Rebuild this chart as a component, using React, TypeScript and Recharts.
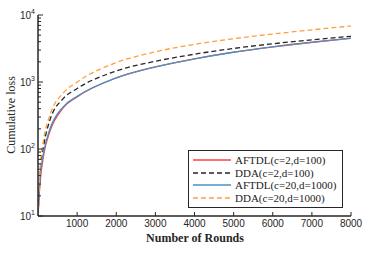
import React from 'react';
import { LineChart, Line, XAxis, YAxis } from 'recharts';

const rounds = [0, 50, 150, 300, 650, 1000, 2000, 3000, 4000, 5000, 6000, 7000, 8000];
const aftdlSmall = [10, 30, 85, 180, 415, 600, 1150, 1680, 2220, 2790, 3350, 3920, 4500];
const ddaSmall = [10, 40, 115, 265, 570, 800, 1460, 2040, 2600, 3170, 3720, 4260, 4810];
const aftdlLarge = [10, 34, 92, 195, 430, 610, 1150, 1680, 2210, 2780, 3340, 3910, 4490];
const ddaLarge = [10, 48, 145, 315, 690, 1000, 1950, 2820, 3650, 4430, 5200, 6000, 6860];

const xTicks = [1000, 2000, 3000, 4000, 5000, 6000, 7000, 8000];
const yMajor = [10, 100, 1000, 10000];
const yMinor = [20, 30, 40, 50, 60, 70, 80, 90, 200, 300, 400, 500, 600, 700, 800, 900, 2000, 3000, 4000, 5000, 6000, 7000, 8000, 9000];

const series = [
  { key: 'a2', name: 'AFTDL(c=2,d=100)', color: '#ff4040', dash: undefined },
  { key: 'd2', name: 'DDA(c=2,d=100)', color: '#262626', dash: '5 3' },
  { key: 'a20', name: 'AFTDL(c=20,d=1000)', color: '#4a92c2', dash: undefined },
  { key: 'd20', name: 'DDA(c=20,d=1000)', color: '#ff9f3f', dash: '5 3' },
];

const data = rounds.map((t, i) => ({
  t,
  a2: aftdlSmall[i],
  d2: ddaSmall[i],
  a20: aftdlLarge[i],
  d20: ddaLarge[i],
}));

const AXIS = '#262626';
const SANS = '"Liberation Sans", Arial, sans-serif';
const SERIF = '"Liberation Serif", "DejaVu Serif", serif';

const LeftTick = (props: any) => {
  const { x, y, payload } = props;
  const v = payload.value;
  const major = yMajor.includes(v);
  return (
    <g>
      <line x1={x} y1={y} x2={x + (major ? 5 : 3)} y2={y} stroke={AXIS} strokeWidth={1} />
      {major && (
        <text x={x - 3} y={y + 4} textAnchor="end" fontFamily={SANS} fontSize={10} fill={AXIS}>
          10
          <tspan dy={-5} fontSize={7}>{Math.round(Math.log10(v))}</tspan>
        </text>
      )}
    </g>
  );
};

const RightTick = (props: any) => {
  const { x, y, payload } = props;
  const major = yMajor.includes(payload.value);
  return <line x1={x} y1={y} x2={x - (major ? 5 : 3)} y2={y} stroke={AXIS} strokeWidth={1} />;
};

const BottomTick = (props: any) => {
  const { x, y, payload } = props;
  return (
    <g>
      <line x1={x} y1={y} x2={x} y2={y - 4} stroke={AXIS} strokeWidth={1} />
      <text x={x} y={y + 11} textAnchor="middle" fontFamily={SANS} fontSize={10} fill={AXIS}>
        {payload.value}
      </text>
    </g>
  );
};

const TopTick = (props: any) => {
  const { x, y } = props;
  return <line x1={x} y1={y} x2={x} y2={y + 4} stroke={AXIS} strokeWidth={1} />;
};

const LegendBox = () => (
  <div
    style={{
      position: 'absolute',
      left: 188,
      top: 150,
      width: 155,
      boxSizing: 'border-box',
      border: `1.5px solid ${AXIS}`,
      background: '#fff',
      padding: '3px 2px 3px 2px',
      fontFamily: SERIF,
      fontSize: 11,
      color: '#222',
      lineHeight: '12.6px',
    }}
  >
    {series.map((s) => (
      <div key={s.key} style={{ display: 'flex', alignItems: 'center', whiteSpace: 'nowrap' }}>
        <svg width={42} height={10} style={{ marginRight: 2 }}>
          <line x1={2} y1={5} x2={40} y2={5} stroke={s.color} strokeWidth={1.4} strokeDasharray={s.dash} />
        </svg>
        <span>{s.name}</span>
      </div>
    ))}
  </div>
);

export default function App() {
  return (
    <div style={{ position: 'absolute', left: 0, top: 0, width: 381, height: 255, background: '#fff' }}>
      <LineChart width={381} height={255} data={data} margin={{ top: 15, right: 30, bottom: 9, left: 8 }}>
        <XAxis
          dataKey="t"
          type="number"
          domain={[0, 8000]}
          ticks={xTicks}
          tickSize={0}
          tickMargin={0}
          tick={<BottomTick />}
          axisLine={{ stroke: AXIS, strokeWidth: 1.5 }}
          tickLine={false}
          height={30}
          allowDataOverflow
        />
        <XAxis
          xAxisId="top"
          dataKey="t"
          type="number"
          orientation="top"
          domain={[0, 8000]}
          ticks={xTicks}
          tickSize={0}
          tickMargin={0}
          tick={<TopTick />}
          axisLine={{ stroke: AXIS, strokeWidth: 1.5 }}
          tickLine={false}
          height={0}
          allowDataOverflow
        />
        <YAxis
          scale="log"
          type="number"
          domain={[10, 10000]}
          ticks={[...yMajor, ...yMinor]}
          interval={0}
          tickSize={0}
          tickMargin={0}
          tick={<LeftTick />}
          axisLine={{ stroke: AXIS, strokeWidth: 1.5 }}
          tickLine={false}
          width={30}
          allowDataOverflow
        />
        <YAxis
          yAxisId="right"
          orientation="right"
          scale="log"
          type="number"
          domain={[10, 10000]}
          ticks={[...yMajor, ...yMinor]}
          interval={0}
          tickSize={0}
          tickMargin={0}
          tick={<RightTick />}
          axisLine={{ stroke: AXIS, strokeWidth: 1.5 }}
          tickLine={false}
          width={0}
          allowDataOverflow
        />
        {series.map((s) => (
          <Line
            key={s.key}
            dataKey={s.key}
            name={s.name}
            type="monotone"
            stroke={s.color}
            strokeWidth={1.3}
            strokeDasharray={s.dash}
            dot={false}
            isAnimationActive={false}
          />
        ))}
        <text x={195} y={242} textAnchor="middle" fontFamily={SERIF} fontWeight="bold" fontSize={12} fill={AXIS}>
          Number of Rounds
        </text>
        <text
          x={15}
          y={115}
          textAnchor="middle"
          fontFamily={SERIF}
          fontSize={12}
          fill={AXIS}
          transform="rotate(-90 15 115)"
        >
          Cumulative loss
        </text>
      </LineChart>
      <LegendBox />
    </div>
  );
}
